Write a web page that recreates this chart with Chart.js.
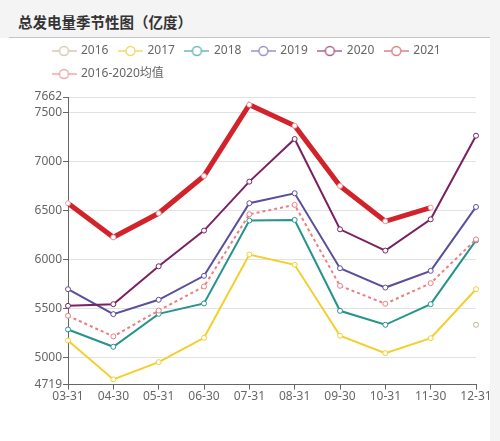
<!DOCTYPE html>
<html>
<head>
<meta charset="utf-8">
<script src="https://cdn.jsdelivr.net/npm/chart.js@4.4.0/dist/chart.umd.min.js"></script>
<style>
  html, body { margin: 0; padding: 0; }
  body { width: 500px; height: 441px; background: #f4f4f4; position: relative; overflow: hidden; }
  #panel { position: absolute; left: 0; top: 38px; width: 490px; height: 403px; background: #fff; }
  #rule { position: absolute; left: 9px; top: 37px; width: 481px; height: 1px; background: #c4c4c4; }
  #title { position: absolute; left: 18px; top: 12px; font: bold 14.5px "Noto Sans CJK SC", "Noto Sans", sans-serif; color: #333; line-height: 20px; white-space: nowrap; }
  #wrap { position: absolute; left: 0; top: 0; width: 500px; height: 441px; }
</style>
</head>
<body>
<div id="panel"></div>
<div id="rule"></div>
<div id="title">总发电量季节性图（亿度）</div>
<div id="wrap"><canvas id="c" width="500" height="441"></canvas></div>
<script>
const categories = ['03-31','04-30','05-31','06-30','07-31','08-31','09-30','10-31','11-30','12-31'];
const seriesNames = ['2016','2017','2018','2019','2020','2021','2016-2020均值'];
const v2016 = [null, null, null, null, null, null, null, null, null, 5331];
const v2017 = [5171, 4772, 4949, 5198, 6050, 5945, 5219, 5041, 5194, 5695];
const v2018 = [5283, 5106, 5443, 5549, 6398, 6404, 5474, 5331, 5542, 6195];
const v2019 = [5695, 5440, 5587, 5832, 6575, 6677, 5910, 5712, 5883, 6537];
const v2020 = [5525, 5542, 5930, 6295, 6796, 7232, 6308, 6090, 6410, 7266];
const v2021 = [6575, 6226, 6472, 6854, 7583, 7368, 6752, 6390, 6530, null];
const vAvg  = [5423, 5212, 5477, 5723, 6462, 6558, 5730, 5546, 5757, 6205];
const yTickValues = [4719, 5000, 5500, 6000, 6500, 7000, 7500, 7662];
const yMin = 4719, yMax = 7662;

const seriesValues = [v2016, v2017, v2018, v2019, v2020, v2021, vAvg];
const lineColors   = ['#c2ba92', '#f3cf2c', '#27948c', '#5a4f9d', '#7b2161', '#d2222a', '#ec7d82'];
const pointBorders = ['#bdb58d', '#f3cf2c', '#27948c', '#5a4f9d', '#7b2161', '#ee9aa0', '#ec7d82'];
const legendColors = ['#d3cdb2', '#f2db6a', '#6cbab4', '#9b95c2', '#a86890', '#d9848a', '#f0a8ac'];
const lineWidths   = [2, 2, 2, 2, 2, 5, 2];
const dashes       = [[], [], [], [], [], [], [3, 3]];

function makeIcon(color) {
  const c = document.createElement('canvas');
  c.width = 25; c.height = 12;
  const x = c.getContext('2d');
  x.strokeStyle = color; x.lineWidth = 1.5;
  x.beginPath(); x.moveTo(0, 6); x.lineTo(25, 6); x.stroke();
  x.beginPath(); x.arc(12.5, 6, 4.5, 0, Math.PI * 2);
  x.fillStyle = '#fff'; x.fill(); x.stroke();
  return c;
}
const icons = legendColors.map(makeIcon);

const datasets = seriesNames.map((name, i) => ({
  label: name,
  data: seriesValues[i],
  borderColor: lineColors[i],
  backgroundColor: lineColors[i],
  borderWidth: lineWidths[i],
  borderDash: dashes[i],
  pointRadius: 2.5,
  pointBorderWidth: 1,
  pointBackgroundColor: '#fff',
  pointBorderColor: pointBorders[i],
  tension: 0,
  fill: false,
  spanGaps: false,
  order: 10 - i
}));

const LEGEND_SHIFT = 42;
const legendTweaks = {
  id: 'legendTweaks',
  beforeInit(chart) {
    const orig = chart.legend.fit;
    chart.legend.fit = function () { orig.call(this); this.height += 7; };
  },
  afterLayout(chart) {
    chart.legend.left += LEGEND_SHIFT;
  }
};

new Chart(document.getElementById('c'), {
  type: 'line',
  data: { labels: categories, datasets },
  plugins: [legendTweaks],
  options: {
    responsive: false,
    animation: false,
    events: [],
    layout: { padding: { left: 0, right: 24, top: 34, bottom: 37 } },
    plugins: {
      tooltip: { enabled: false },
      legend: {
        position: 'top',
        align: 'start',
        labels: {
          usePointStyle: true,
          pointStyleWidth: 22,
          padding: 11,
          color: '#666',
          font: { family: '"Noto Sans", "Noto Sans CJK SC", sans-serif', size: 12 },
          sort: (a, b) => a.datasetIndex - b.datasetIndex,
          generateLabels(chart) {
            const items = Chart.defaults.plugins.legend.labels.generateLabels(chart);
            items.forEach(it => { it.pointStyle = icons[it.datasetIndex]; it.fontColor = '#666'; });
            return items;
          }
        }
      }
    },
    scales: {
      x: {
        offset: false,
        grid: { drawOnChartArea: false, drawTicks: true, tickLength: 5, tickColor: '#666' },
        border: { display: true, color: '#666', width: 1 },
        ticks: { color: '#666', padding: 0, maxRotation: 0, autoSkip: false,
                 font: { family: '"Noto Sans", sans-serif', size: 12 } }
      },
      y: {
        min: yMin,
        max: yMax,
        afterFit(s) { s.width = 68; },
        afterBuildTicks(s) { s.ticks = yTickValues.map(v => ({ value: v })); },
        grid: {
          color: ctx => (ctx.tick && ctx.tick.value === yMin) ? 'rgba(0,0,0,0)' : '#e2e2e2',
          tickColor: '#666',
          tickLength: 5,
          lineWidth: 1
        },
        border: { display: true, color: '#666', width: 1 },
        ticks: { color: '#666', padding: 1, callback: v => String(v),
                 font: { family: '"Noto Sans", sans-serif', size: 12 } }
      }
    }
  }
});
</script>
</body>
</html>
